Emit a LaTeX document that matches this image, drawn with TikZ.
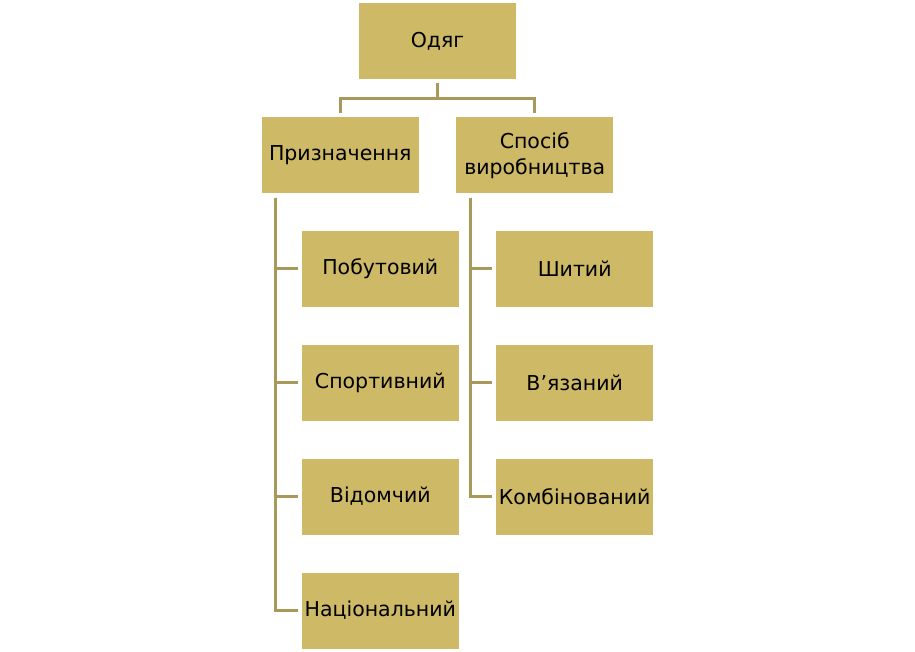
\documentclass[tikz,border=0pt]{standalone}
\usepackage{fontspec}
\setmainfont{DejaVu Sans}
\usetikzlibrary{positioning}
\definecolor{boxfill}{RGB}{205,185,102}
\definecolor{linkcol}{RGB}{168,152,90}

\begin{document}
\begin{tikzpicture}[x=1pt, y=-1pt, node distance=37.5pt,
  box/.style={fill=boxfill, align=center, minimum width=157pt, minimum height=76pt, inner sep=1pt,
    font=\fontsize{20.5pt}{26pt}\selectfont},
  link/.style={draw=linkcol, line width=3pt, shorten <=4pt, shorten >=4pt}]
\useasboundingbox (0,0) rectangle (915,651);
\node[box] (clothes) at (437.5,41) {Одяг};
\node[box, below left=38pt and 18.5pt of clothes.south, anchor=north east] (purpose) {Призначення};
\node[box, below right=38pt and 18.5pt of clothes.south, anchor=north west] (making) {Спосіб\\виробництва};
% purpose branch
\node[box, below right=37pt and 40pt of purpose.south west, anchor=north west] (daily) {Побутовий};
\node[box, below=of daily] (sport) {Спортивний};
\node[box, below=of sport] (uniform) {Відомчий};
\node[box, below=of uniform] (national) {Національний};
% making branch
\node[box, below right=37pt and 40pt of making.south west, anchor=north west] (sewn) {Шитий};
\node[box, below=of sewn] (knit) {В’язаний};
\node[box, below=of knit] (mixed) {Комбінований};
\draw[link] (clothes.south) -- ++(0,19.5) -| (purpose.north);
\draw[link] (clothes.south) -- ++(0,19.5) -| (making.north);
\draw[link] ([xshift=14pt]purpose.south west) |- (daily.west);
\draw[link] ([xshift=14pt]purpose.south west) |- (sport.west);
\draw[link] ([xshift=14pt]purpose.south west) |- (uniform.west);
\draw[link] ([xshift=14pt]purpose.south west) |- (national.west);
\draw[link] ([xshift=14pt]making.south west) |- (sewn.west);
\draw[link] ([xshift=14pt]making.south west) |- (knit.west);
\draw[link] ([xshift=14pt]making.south west) |- (mixed.west);
\end{tikzpicture}
\end{document}
